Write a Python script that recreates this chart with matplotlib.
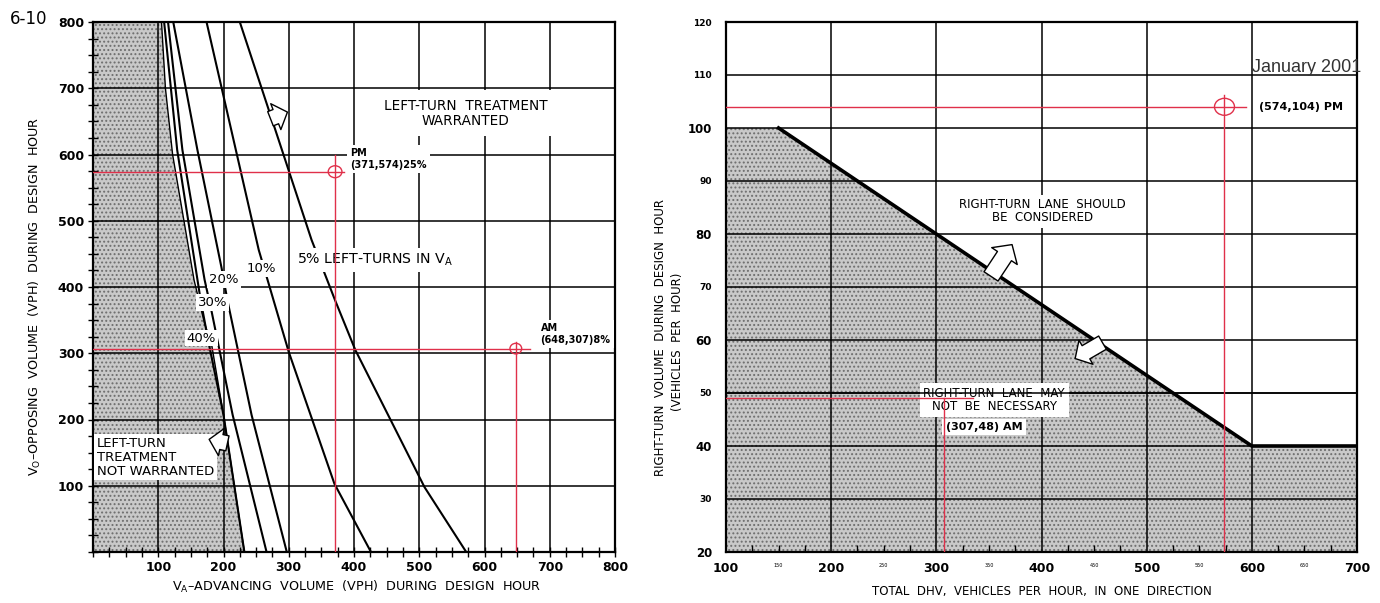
import matplotlib
matplotlib.use('Agg')
import matplotlib.pyplot as plt
from matplotlib.patches import Polygon, Ellipse
from matplotlib.ticker import MultipleLocator, FixedLocator, FuncFormatter

plt.rcParams['font.family'] = ['DejaVu Sans']
plt.rcParams['hatch.linewidth'] = 0.9

# ---------------- data: left chart (left-turn warrant) ----------------
left_x_ticks = [100, 200, 300, 400, 500, 600, 700, 800]
left_y_ticks = [100, 200, 300, 400, 500, 600, 700, 800]

shade_x = [105, 111, 122, 155, 171, 182, 200, 232]
shade_y = [800, 700, 600, 410, 345, 312, 207, 0]

curve_40_x = [109, 129, 165, 178, 200, 232]
curve_40_y = [800, 607, 380, 312, 207, 0]
curve_30_x = [115, 137, 171, 182, 214, 266]
curve_30_y = [800, 607, 411, 362, 207, 0]
curve_20_x = [123, 160, 197, 206, 243, 297]
curve_20_y = [800, 607, 429, 380, 207, 0]
curve_10_x = [174, 254, 300, 370, 426]
curve_10_y = [800, 456, 302, 103, 0]
curve_05_x = [225, 335, 371, 402, 508, 572]
curve_05_y = [800, 471, 380, 305, 98, 0]

pct_labels = ['40%', '30%', '20%', '10%']
pct_label_x = [166, 183, 201, 258]
pct_label_y = [323, 377, 411, 428]

left_pm = (371, 574)
left_am = (648, 307)

# ---------------- data: right chart (right-turn lane) ----------------
right_x_ticks = [100, 200, 300, 400, 500, 600, 700]
right_y_ticks = [20, 30, 40, 50, 60, 70, 80, 90, 100, 110, 120]
right_y_label_sizes = [8.5, 6.5, 8.5, 6.5, 8.5, 6.5, 8.5, 6.5, 8.5, 6.5, 6.5]

rt_boundary_x = [100, 150, 600, 700]
rt_boundary_y = [100, 100, 40, 40]

right_pm = (574, 104)
right_am = (307, 49)

RED = '#e0304a'
SHADE_FC = '#c9c9c9'
SHADE_EC = '#6e6e6e'

fig = plt.figure(figsize=(13.8, 6.03), dpi=100)
W, H = 1380.0, 603.0
axL = fig.add_axes([93 / W, 51 / H, 522 / W, 530 / H])
axR = fig.add_axes([726 / W, 51 / H, 631 / W, 530 / H])

for ax in (axL, axR):
    ax.set_axisbelow('line')
    for s in ax.spines.values():
        s.set_linewidth(1.6)
        s.set_color('black')

# ---------------- left chart ----------------
axL.set_xlim(0, 800)
axL.set_ylim(0, 800)
axL.xaxis.set_major_locator(FixedLocator(left_x_ticks))
axL.yaxis.set_major_locator(FixedLocator(left_y_ticks))
axL.xaxis.set_minor_locator(MultipleLocator(25))
axL.yaxis.set_minor_locator(MultipleLocator(25))
axL.grid(True, which='major', color='black', lw=1.1)
axL.tick_params(which='both', direction='inout', length=7, width=1.0, labelsize=9, pad=3)
for lbl in axL.get_xticklabels() + axL.get_yticklabels():
    lbl.set_fontweight('bold')

shade_poly = [(0, 800)] + list(zip(shade_x, shade_y)) + [(0, 0)]
axL.add_patch(Polygon(shade_poly, closed=True, facecolor=SHADE_FC, edgecolor=SHADE_EC,
                      hatch='....', lw=0, zorder=1))
axL.plot(shade_x, shade_y, color='black', lw=1.0, zorder=2)

for cx, cy in [(curve_40_x, curve_40_y), (curve_30_x, curve_30_y), (curve_20_x, curve_20_y),
               (curve_10_x, curve_10_y), (curve_05_x, curve_05_y)]:
    axL.plot(cx, cy, color='black', lw=1.5, zorder=2)

lbox = dict(boxstyle='square,pad=0.15', fc='white', ec='none')
for t, x, y in zip(pct_labels, pct_label_x, pct_label_y):
    axL.text(x, y, t, ha='center', va='center', fontsize=9.5, bbox=lbox, zorder=3)

axL.text(312, 441, r'5% LEFT-TURNS IN V$_\mathregular{A}$', ha='left', va='center', fontsize=10.2,
         bbox=dict(boxstyle='square,pad=0.25', fc='white', ec='none'), zorder=3)
axL.text(571, 662, 'LEFT-TURN  TREATMENT\nWARRANTED', ha='center', va='center', fontsize=9.8,
         linespacing=1.15, bbox=dict(boxstyle='square,pad=0.6', fc='white', ec='none'), zorder=3)
axL.text(6, 143, 'LEFT-TURN\nTREATMENT\nNOT WARRANTED', ha='left', va='center', fontsize=9.5,
         linespacing=1.1, bbox=dict(boxstyle='square,pad=0.2', fc='white', ec='none'), zorder=3)

axL.text(394, 593, 'PM\n(%d,%d)25%%' % left_pm, ha='left', va='center', fontsize=7, fontweight='bold',
         linespacing=1.3, bbox=dict(boxstyle='square,pad=0.3', fc='white', ec='none'), zorder=3)
axL.text(686, 329, 'AM\n(%d,%d)8%%' % left_am, ha='left', va='center', fontsize=7, fontweight='bold',
         linespacing=1.3, bbox=dict(boxstyle='square,pad=0.3', fc='white', ec='none'), zorder=3)

# red reference lines (left)
axL.plot([0, left_pm[0] + 13], [left_pm[1], left_pm[1]], color=RED, lw=1.0, zorder=5)
axL.plot([left_pm[0], left_pm[0]], [0, left_pm[1] + 25], color=RED, lw=1.0, zorder=5)
axL.add_patch(Ellipse(left_pm, 21, 18, fc='none', ec=RED, lw=1.0, zorder=5))
axL.plot([0, left_am[0] + 21], [left_am[1], left_am[1]], color=RED, lw=1.0, zorder=5)
axL.plot([left_am[0], left_am[0]], [0, left_am[1] + 10], color=RED, lw=1.0, zorder=5)
axL.add_patch(Ellipse(left_am, 18, 16, fc='none', ec=RED, lw=1.0, zorder=5))

arrow_style = 'simple,head_length=0.9,head_width=2.0,tail_width=1.1'
axL.annotate('', xy=(298, 664), xytext=(272, 654),
             arrowprops=dict(arrowstyle=arrow_style, fc='white', ec='black', lw=1.0,
                             shrinkA=0, shrinkB=0, mutation_scale=10), zorder=6)
axL.annotate('', xy=(178, 170), xytext=(206, 164),
             arrowprops=dict(arrowstyle=arrow_style, fc='white', ec='black', lw=1.0,
                             shrinkA=0, shrinkB=0, mutation_scale=10), zorder=6)

fig.text(35 / W, 1 - 296 / H, r'V$_\mathregular{O}$–OPPOSING  VOLUME  (VPH)  DURING  DESIGN  HOUR',
         rotation=90, ha='center', va='center', fontsize=9.2)
fig.text(357 / W, 1 - 587 / H, r'V$_\mathregular{A}$–ADVANCING  VOLUME  (VPH)  DURING  DESIGN  HOUR',
         ha='center', va='center', fontsize=9.2)
fig.text(10 / W, 1 - 19 / H, '6-10', ha='left', va='center', fontsize=12)

# ---------------- right chart ----------------
axR.set_xlim(100, 700)
axR.set_ylim(20, 120)
axR.xaxis.set_major_locator(FixedLocator(right_x_ticks))
axR.yaxis.set_major_locator(FixedLocator(right_y_ticks))
axR.xaxis.set_minor_locator(MultipleLocator(25))
axR.xaxis.set_minor_formatter(FuncFormatter(lambda v, p: '%d' % v if int(round(v)) % 100 == 50 else ''))
axR.grid(True, which='major', color='black', lw=1.1)
axR.tick_params(axis='x', which='major', direction='in', length=0, labelsize=9, pad=7)
axR.tick_params(axis='x', which='minor', direction='in', length=5, width=1.0, labelsize=3.5, pad=8)
axR.tick_params(axis='y', which='both', length=0, pad=10)
for lbl in axR.get_xticklabels():
    lbl.set_fontweight('bold')
for lbl, s in zip(axR.get_yticklabels(), right_y_label_sizes):
    lbl.set_fontweight('bold')
    lbl.set_fontsize(s)

rt_poly = [(rt_boundary_x[0], 20)] + list(zip(rt_boundary_x, rt_boundary_y)) + [(rt_boundary_x[-1], 20)]
axR.add_patch(Polygon(rt_poly, closed=True, facecolor=SHADE_FC, edgecolor=SHADE_EC,
                      hatch='....', lw=0, zorder=1))
axR.plot(rt_boundary_x[1:], rt_boundary_y[1:], color='black', lw=2.6, zorder=2)

axR.text(401, 84.3, 'RIGHT-TURN  LANE  SHOULD\nBE  CONSIDERED', ha='center', va='center', fontsize=8.5,
         linespacing=1.0, bbox=dict(boxstyle='square,pad=0.3', fc='white', ec='none'), zorder=3)
axR.text(355, 48.7, 'RIGHT-TURN  LANE  MAY\nNOT  BE  NECESSARY', ha='center', va='center', fontsize=8.5,
         linespacing=1.05, bbox=dict(boxstyle='square,pad=0.3', fc='white', ec='none'), zorder=3)
axR.axhline(50, color='black', lw=1.1, zorder=4)
axR.text(309, 43.6, '(307,48) AM', ha='left', va='center', fontsize=8, fontweight='bold',
         bbox=dict(boxstyle='square,pad=0.3', fc='white', ec='none'), zorder=3)
axR.text(607, 104, '(574,104) PM', ha='left', va='center', fontsize=8, fontweight='bold', zorder=3)
axR.text(652, 111.5, 'January 2001', ha='center', va='center', fontsize=13,
         family=['Liberation Sans', 'DejaVu Sans'], color='#333333', zorder=3)

# red reference lines (right)
axR.plot([100, right_pm[0] + 20], [right_pm[1], right_pm[1]], color=RED, lw=1.0, zorder=5)
axR.plot([right_pm[0], right_pm[0]], [20, right_pm[1] + 2.2], color=RED, lw=1.0, zorder=5)
axR.add_patch(Ellipse(right_pm, 19, 3.2, fc='none', ec=RED, lw=1.0, zorder=5))
axR.plot([100, 335], [right_am[1], right_am[1]], color=RED, lw=1.0, zorder=5)
axR.plot([right_am[0], right_am[0]], [20, right_am[1]], color=RED, lw=1.0, zorder=5)

axR.annotate('', xy=(372, 78), xytext=(352, 72),
             arrowprops=dict(arrowstyle=arrow_style, fc='white', ec='black', lw=1.0,
                             shrinkA=0, shrinkB=0, mutation_scale=11), zorder=6)
axR.annotate('', xy=(432, 56.5), xytext=(458, 59.5),
             arrowprops=dict(arrowstyle=arrow_style, fc='white', ec='black', lw=1.0,
                             shrinkA=0, shrinkB=0, mutation_scale=10), zorder=6)

fig.text(660 / W, 1 - 337 / H, 'RIGHT-TURN  VOLUME  DURING  DESIGN  HOUR', rotation=90,
         ha='center', va='center', fontsize=8.5)
fig.text(678 / W, 1 - 342 / H, '(VEHICLES  PER  HOUR)', rotation=90,
         ha='center', va='center', fontsize=8.5)
fig.text(1042 / W, 1 - 592 / H, 'TOTAL  DHV,  VEHICLES  PER  HOUR,  IN  ONE  DIRECTION',
         ha='center', va='center', fontsize=8.5)

fig.savefig('out.png', dpi=100)
